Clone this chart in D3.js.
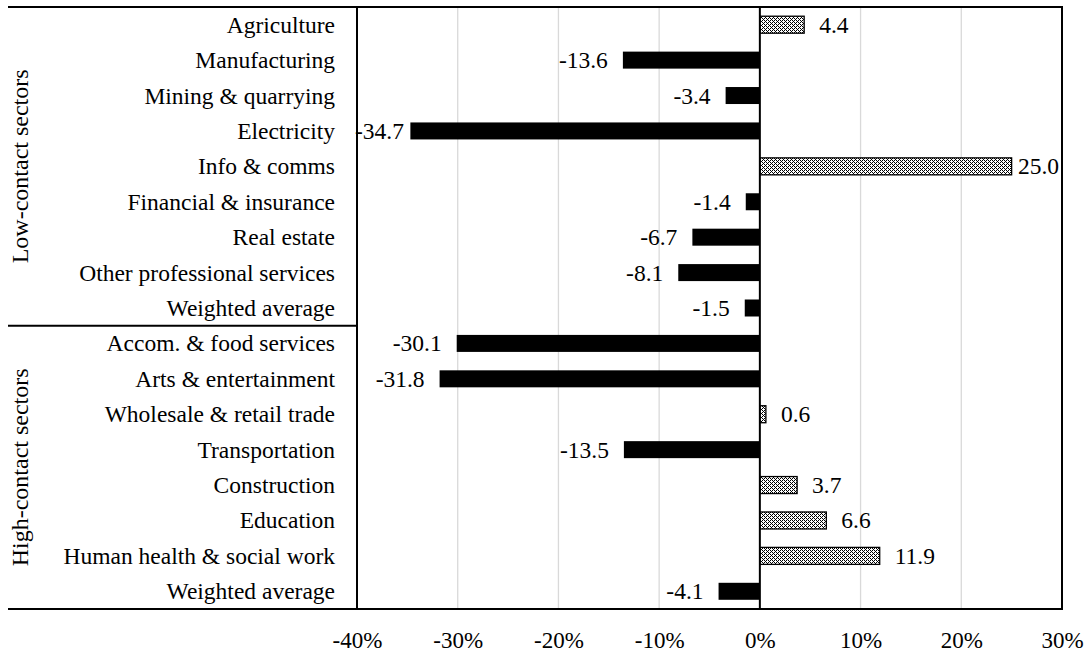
<!DOCTYPE html>
<html>
<head>
<meta charset="utf-8">
<script src="https://cdn.jsdelivr.net/npm/d3@7"></script>
<style>
  body { margin: 0; background: #fff; }
</style>
</head>
<body>
<svg id="chart" width="1089" height="653"></svg>
<script>
// Sectors, top to bottom
const sectors = [
  "Agriculture", "Manufacturing", "Mining & quarrying", "Electricity",
  "Info & comms", "Financial & insurance", "Real estate",
  "Other professional services", "Weighted average",
  "Accom. & food services", "Arts & entertainment", "Wholesale & retail trade",
  "Transportation", "Construction", "Education", "Human health & social work",
  "Weighted average"
];
// Percentage change per sector
const changes = [
  4.4, -13.6, -3.4, -34.7, 25.0, -1.4, -6.7, -8.1, -1.5,
  -30.1, -31.8, 0.6, -13.5, 3.7, 6.6, 11.9, -4.1
];
// Sector groups and the number of rows in each
const groupNames = ["Low-contact sectors", "High-contact sectors"];
const groupSizes = [9, 8];
// Value axis ticks (fractions)
const tickValues = [-0.4, -0.3, -0.2, -0.1, 0, 0.1, 0.2, 0.3];

const FONT = "'Liberation Serif', 'Times New Roman', Times, serif";
const FS = "23.5px";
const svg = d3.select("#chart");
const plot = { left: 357, right: 1062, top: 7, bottom: 609 };
const outerLeft = 8;

const x = d3.scaleLinear().domain([-0.4, 0.3]).range([plot.left, plot.right]);
const y = d3.scaleBand().domain(d3.range(sectors.length))
  .range([plot.top, plot.bottom]).paddingInner(0.52).paddingOuter(0.26);
const rowY = d3.scaleBand().domain(d3.range(sectors.length)).range([plot.top, plot.bottom]);

// Dotted fill for positive bars
const defs = svg.append("defs");
const pat = defs.append("pattern").attr("id", "dots")
  .attr("width", 4).attr("height", 4).attr("patternUnits", "userSpaceOnUse");
pat.append("rect").attr("width", 4).attr("height", 4).attr("fill", "#fff");
[[0,0],[2,0],[0,2],[2,2],[1,1],[3,3]].forEach(([a,b]) =>
  pat.append("rect").attr("x", a).attr("y", b).attr("width", 1).attr("height", 1).attr("fill", "#000"));

// Vertical gridlines
svg.append("g").selectAll("line")
  .data(tickValues.filter(t => t !== 0 && t > -0.4 && t < 0.3))
  .join("line")
  .attr("x1", d => x(d)).attr("x2", d => x(d))
  .attr("y1", plot.top).attr("y2", plot.bottom)
  .attr("stroke", "#d9d9d9").attr("stroke-width", 1.3);

// Bars
const data = sectors.map((s, i) => ({ i, s, v: changes[i] }));
svg.append("g").selectAll("rect")
  .data(data)
  .join("rect")
  .attr("x", d => x(Math.min(0, d.v / 100)))
  .attr("width", d => Math.abs(x(d.v / 100) - x(0)))
  .attr("y", d => y(d.i))
  .attr("height", y.bandwidth())
  .attr("fill", d => d.v >= 0 ? "url(#dots)" : "#000")
  .attr("stroke", "#000")
  .attr("stroke-width", d => d.v >= 0 ? 1.3 : 0);

// Value labels, kept inside the plot frame
const labelG = svg.append("g");
const gap = 15;
data.forEach(d => {
  const t = labelG.append("text")
    .style("font-family", FONT).style("font-size", FS)
    .attr("y", y(d.i) + y.bandwidth() / 2)
    .attr("dy", "0.34em")
    .text(d.v.toFixed(1));
  const w = t.node().getComputedTextLength();
  let start;
  if (d.v >= 0) start = x(d.v / 100) + gap;
  else start = x(d.v / 100) - gap - w;
  start = Math.max(plot.left - 2, Math.min(plot.right - w - 3, start));
  t.attr("x", start);
});

// Zero line
svg.append("line")
  .attr("x1", x(0)).attr("x2", x(0))
  .attr("y1", plot.top).attr("y2", plot.bottom)
  .attr("stroke", "#000").attr("stroke-width", 2);

// Frame
const frame = svg.append("g").attr("stroke", "#000").attr("stroke-width", 2);
frame.append("line").attr("x1", outerLeft).attr("x2", plot.right + 1).attr("y1", plot.top).attr("y2", plot.top);
frame.append("line").attr("x1", outerLeft).attr("x2", plot.right + 1).attr("y1", plot.bottom).attr("y2", plot.bottom);
frame.append("line").attr("x1", plot.left).attr("x2", plot.left).attr("y1", plot.top).attr("y2", plot.bottom);
frame.append("line").attr("x1", plot.right).attr("x2", plot.right).attr("y1", plot.top).attr("y2", plot.bottom);
// Group separator
const sepY = rowY(groupSizes[0]);
frame.append("line").attr("x1", outerLeft).attr("x2", plot.left).attr("y1", sepY).attr("y2", sepY);

// Category axis
const yAxis = d3.axisLeft(y).tickSize(0).tickPadding(22).tickFormat(i => sectors[i]);
svg.append("g").attr("transform", `translate(${plot.left},0)`).call(yAxis)
  .call(g => g.select(".domain").remove())
  .selectAll("text").attr("dy", "0.34em")
  .style("font-size", FS).style("font-family", FONT).attr("fill", "#000");

// Group labels
let start = 0;
groupNames.forEach((name, k) => {
  const y0 = rowY(start), y1 = rowY(start + groupSizes[k] - 1) + rowY.bandwidth();
  svg.append("text")
    .attr("transform", `translate(28,${(y0 + y1) / 2}) rotate(-90)`)
    .attr("text-anchor", "middle")
    .style("font-family", FONT).style("font-size", "24px")
    .text(name);
  start += groupSizes[k];
});

// Value axis
const xAxis = d3.axisBottom(x).tickValues(tickValues).tickSize(0).tickPadding(23)
  .tickFormat(d => Math.round(d * 100) + "%");
svg.append("g").attr("transform", `translate(0,${plot.bottom})`).call(xAxis)
  .call(g => g.select(".domain").remove())
  .selectAll("text").style("font-size", "23px").style("font-family", FONT).attr("fill", "#000");
</script>
</body>
</html>
